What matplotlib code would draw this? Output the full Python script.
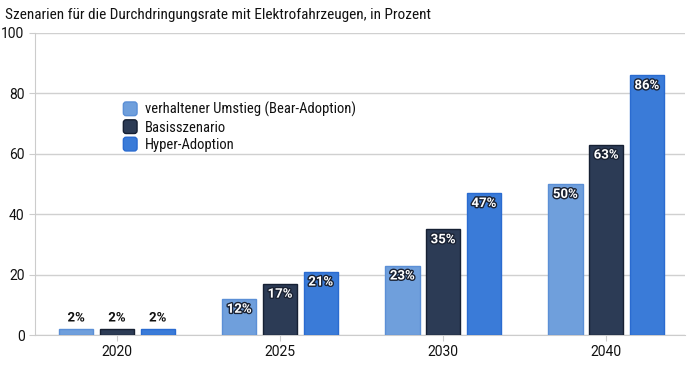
import matplotlib
matplotlib.use("Agg")
import matplotlib.pyplot as plt
import matplotlib.patheffects as pe
from matplotlib import font_manager as fm
import numpy as np
from matplotlib.patches import FancyBboxPatch, Rectangle
from matplotlib.legend_handler import HandlerPatch

title = "Szenarien für die Durchdringungsrate mit Elektrofahrzeugen, in Prozent"
years = ["2020", "2025", "2030", "2040"]
series_names = ["verhaltener Umstieg (Bear-Adoption)", "Basisszenario", "Hyper-Adoption"]
bear = [2, 12, 23, 50]
base = [2, 17, 35, 63]
hyper = [2, 21, 47, 86]
yticks = [0, 20, 40, 60, 80, 100]

colors = ["#6f9fdc", "#2c3b55", "#3a7bd8"]
edges = ["#5b8fd6", "#162033", "#2a6bd0"]

names = {f.name for f in fm.fontManager.ttflist}
narrow = None
for cand in ["Roboto Condensed", "Liberation Sans Narrow", "Open Sans Condensed"]:
    if cand in names:
        narrow = cand
        break

plt.rcParams['font.family'] = ['Roboto', 'DejaVu Sans']
fig = plt.figure(figsize=(7, 3.65), dpi=100)
ax = fig.add_axes([0.05, 0.082, 0.929, 0.828])

x = np.arange(len(years))
w = 0.21
off = 0.25
for i, (vals, name) in enumerate(zip([bear, base, hyper], series_names)):
    pos = x + (i - 1) * off
    ax.bar(pos, vals, width=w, color=colors[i], edgecolor=edges[i], linewidth=1.0, label=name, zorder=3)
    for xp, v in zip(pos, vals):
        if v >= 8:
            ax.text(xp, v - 1.3, f"{v}%", ha="center", va="top", color="white", fontsize=9.5,
                    fontweight="bold", zorder=5,
                    path_effects=[pe.withStroke(linewidth=2, foreground="#1a2233")])
        else:
            ax.text(xp, v + 1.5, f"{v}%", ha="center", va="bottom", color="#111111", fontsize=9.5,
                    fontweight="bold", zorder=5,
                    path_effects=[pe.withStroke(linewidth=2, foreground="white")])

ax.set_xlim(-0.503, 3.485)
ax.set_ylim(0, 100)
ax.set_yticks(yticks)
ax.set_xticks(x)
ax.set_xticklabels(years)
ax.yaxis.grid(True, color="#d0d0d0", linewidth=1, zorder=0)
ax.set_axisbelow(True)
for s in ["top", "right"]:
    ax.spines[s].set_visible(False)
ax.spines["left"].set_color("#cccccc")
ax.spines["bottom"].set_color("#cccccc")
ax.tick_params(axis="both", colors="#cccccc", labelcolor="#111111", labelsize=10, length=4)

class RoundHandler(HandlerPatch):
    def create_artists(self, legend, orig_handle, xdescent, ydescent, width, height, fontsize, trans):
        s = min(width, height) * 1.05
        p = FancyBboxPatch(((width - s) / 2 - xdescent, -ydescent + (height - s) / 2), s, s,
                           boxstyle="round,pad=0,rounding_size=2",
                           facecolor=orig_handle.get_facecolor(), edgecolor=orig_handle.get_edgecolor(),
                           linewidth=1, transform=trans)
        return [p]

text_family = [narrow, 'Roboto', 'DejaVu Sans'] if narrow else ['Roboto', 'DejaVu Sans']
text_size = 10.5 if narrow else 9.5

proxies = [Rectangle((0, 0), 1, 1, facecolor=colors[i], edgecolor=edges[i]) for i in range(3)]
leg = ax.legend(proxies, series_names, loc="upper left", bbox_to_anchor=(0.115, 0.815), frameon=False,
                prop={'family': text_family, 'size': text_size},
                handlelength=1.0, handleheight=1.0, handletextpad=0.5, labelspacing=0.2,
                handler_map={Rectangle: RoundHandler()})
for t in leg.get_texts():
    t.set_color("#111111")

fig.text(0.007, 0.958, title, fontsize=text_size + 0.5 if narrow else 9.5, color="#111111",
         ha="left", va="center", family=text_family)

fig.savefig("out.png", dpi=100)
